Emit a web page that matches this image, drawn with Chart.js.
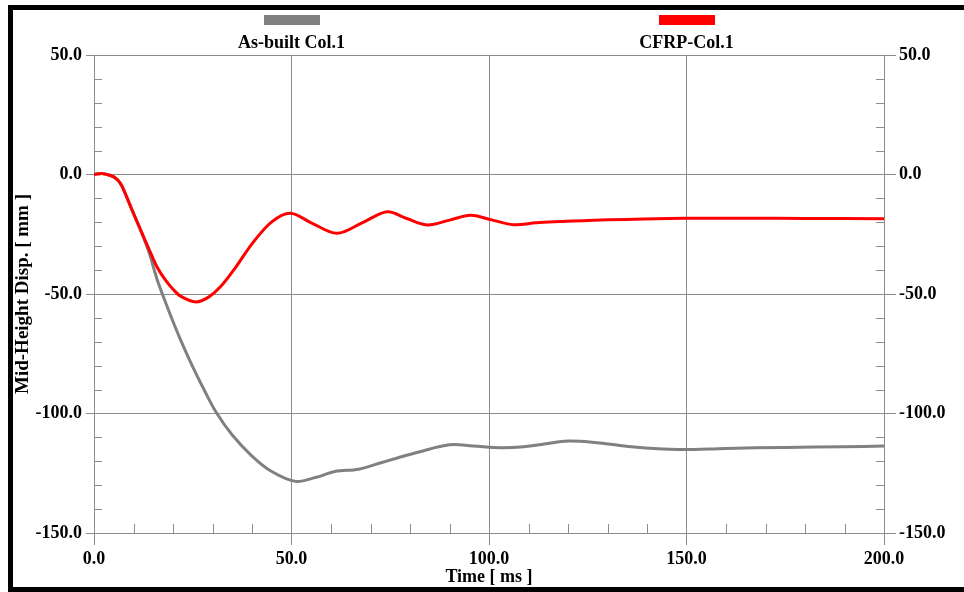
<!DOCTYPE html>
<html>
<head>
<meta charset="utf-8">
<title>Mid-Height Displacement</title>
<script src="https://cdn.jsdelivr.net/npm/chart.js@4/dist/chart.umd.min.js"></script>
<style>
  html, body { margin: 0; padding: 0; background: #fff; }
  canvas { display: block; }
</style>
</head>
<body>
<canvas id="dispChart" width="964" height="592"></canvas>
<script>
// values (time in ms, displacement in mm)
const asBuiltTime = [0, 2, 4, 5, 6, 7, 8, 10, 12, 14, 16, 18, 20, 22, 25, 28, 31, 35, 40, 45, 51, 56, 61, 67, 72, 77, 82, 90, 96, 103, 108, 114, 120, 128, 136, 148, 160, 175, 190, 200];
const asBuiltDisp = [0, 0.4, -0.3, -1, -2.3, -4.6, -8.3, -16.3, -24, -33, -44, -53, -61.5, -69.5, -80.5, -90.5, -99.7, -109, -117.8, -124.3, -128.4, -126.8, -124.3, -123.3, -120.9, -118.5, -116.2, -113.1, -113.6, -114.3, -114, -112.8, -111.5, -112.3, -113.9, -115.1, -114.6, -114.2, -113.9, -113.6];

const cfrpTime = [0, 2, 4, 5, 6, 7, 8, 10, 12, 14, 16, 18, 20, 22, 25.8, 29, 32, 36, 40, 45, 49.7, 55, 61.5, 68, 74.2, 79, 84.3, 90, 95.3, 100, 106.2, 112, 118, 125, 135, 150, 165, 180, 200];
const cfrpDisp = [0, 0.4, -0.3, -1, -2.3, -4.6, -8.3, -16.3, -24, -31.5, -38.8, -44, -48, -51, -53.3, -51.3, -47, -38.5, -29, -19.8, -16.2, -20.2, -24.6, -20.1, -15.6, -18.3, -21.1, -19.1, -17, -18.7, -21, -20.2, -19.7, -19.2, -18.8, -18.3, -18.3, -18.4, -18.5];

const seriesLabels = ['As-built Col.1', 'CFRP-Col.1'];
const seriesColors = ['#808080', '#ff0000'];

const xLabelled = [0, 50, 100, 150, 200];
const yLabelled = [50, 0, -50, -100, -150];

const GRID = '#8c8c8c';
const FONT = { family: "'Liberation Serif', 'Times New Roman', serif", size: 18, weight: 'bold' };
const TITLE_FONT = { family: FONT.family, size: 19, weight: 'bold' };

const toPoints = (xs, ys) => xs.map((x, i) => ({ x: x, y: ys[i] }));

// frame, custom legend and the small inward tick marks
const decor = {
  id: 'decor',
  beforeDraw(chart) {
    const ctx = chart.ctx;
    ctx.save();
    ctx.fillStyle = '#fff';
    ctx.fillRect(0, 0, chart.width, chart.height);
    ctx.restore();
  },
  beforeDatasetsDraw(chart) {
    const { ctx, chartArea: a, scales } = chart;
    ctx.save();
    ctx.strokeStyle = GRID;
    ctx.lineWidth = 1;
    ctx.beginPath();
    scales.x.ticks.forEach(t => {
      if (xLabelled.includes(t.value)) return;
      const px = Math.round(scales.x.getPixelForValue(t.value)) + 0.5;
      ctx.moveTo(px, a.bottom);
      ctx.lineTo(px, a.bottom - 9);
    });
    scales.y.ticks.forEach(t => {
      if (yLabelled.includes(t.value)) return;
      const py = Math.round(scales.y.getPixelForValue(t.value)) + 0.5;
      ctx.moveTo(a.left, py);
      ctx.lineTo(a.left + 8, py);
      ctx.moveTo(a.right, py);
      ctx.lineTo(a.right - 8, py);
    });
    ctx.stroke();
    ctx.restore();
  },
  afterDraw(chart) {
    const { ctx, chartArea: a } = chart;
    ctx.save();
    // legend: one swatch + label per series, spread across the plot width
    chart.data.datasets.forEach((ds, i) => {
      const cx = a.left + (a.right - a.left) * (2 * i + 1) / 4;
      ctx.fillStyle = ds.borderColor;
      ctx.fillRect(Math.round(cx - 28), 15, 56, 10);
      ctx.fillStyle = '#000';
      ctx.font = `${FONT.weight} ${FONT.size}px ${FONT.family}`;
      ctx.textAlign = 'center';
      ctx.textBaseline = 'alphabetic';
      ctx.fillText(ds.label, cx, 47.5);
    });
    // black frame (left, top, bottom)
    ctx.fillStyle = '#000';
    ctx.fillRect(8, 5, 5, 587);
    ctx.fillRect(8, 5, chart.width - 8, 5);
    ctx.fillRect(8, 587, chart.width - 8, 5);
    ctx.restore();
  }
};

const majorColor = (list) => (c) => (c.tick && list.includes(c.tick.value)) ? GRID : 'rgba(0,0,0,0)';

new Chart(document.getElementById('dispChart').getContext('2d'), {
  type: 'line',
  data: {
    datasets: [{
      label: seriesLabels[0],
      data: toPoints(asBuiltTime, asBuiltDisp),
      borderColor: seriesColors[0],
      borderWidth: 3,
      pointRadius: 0,
      tension: 0.35,
      order: 1
    }, {
      label: seriesLabels[1],
      data: toPoints(cfrpTime, cfrpDisp),
      borderColor: seriesColors[1],
      borderWidth: 3,
      pointRadius: 0,
      tension: 0.35,
      order: 0
    }]
  },
  options: {
    responsive: false,
    animation: false,
    layout: { padding: { top: 55, left: 0, right: 0, bottom: 0 } },
    plugins: { legend: { display: false }, tooltip: { enabled: false } },
    scales: {
      x: {
        type: 'linear',
        min: 0, max: 200,
        afterFit: (s) => { s.height = 59; },
        border: { display: true, color: GRID },
        grid: { color: majorColor(xLabelled), tickColor: majorColor(xLabelled), tickLength: 12 },
        ticks: {
          stepSize: 10, autoSkip: false, maxRotation: 0, padding: 4,
          color: '#000', font: FONT,
          callback: (v) => xLabelled.includes(v) ? v.toFixed(1) : ''
        },
        title: { display: true, text: 'Time [ ms ]', color: '#000', font: FONT, padding: { top: 0, bottom: 4 } }
      },
      y: {
        position: 'left',
        min: -150, max: 50,
        afterFit: (s) => { s.width = 94; },
        border: { display: true, color: GRID },
        grid: { color: majorColor(yLabelled), tickColor: majorColor(yLabelled), tickLength: 8 },
        ticks: {
          stepSize: 10, autoSkip: false, padding: 4,
          color: '#000', font: FONT,
          callback: (v) => yLabelled.includes(v) ? v.toFixed(1) : ''
        },
        title: { display: true, text: 'Mid-Height Disp. [ mm ]', color: '#000', font: TITLE_FONT, padding: { top: 12, bottom: 0 } }
      },
      y2: {
        position: 'right',
        min: -150, max: 50,
        afterFit: (s) => { s.width = 80; },
        border: { display: true, color: GRID },
        grid: { drawOnChartArea: false, tickColor: majorColor(yLabelled), tickLength: 12 },
        ticks: {
          stepSize: 10, autoSkip: false, padding: 3,
          color: '#000', font: FONT,
          callback: (v) => yLabelled.includes(v) ? v.toFixed(1) : ''
        }
      }
    }
  },
  plugins: [decor]
});
</script>
</body>
</html>
